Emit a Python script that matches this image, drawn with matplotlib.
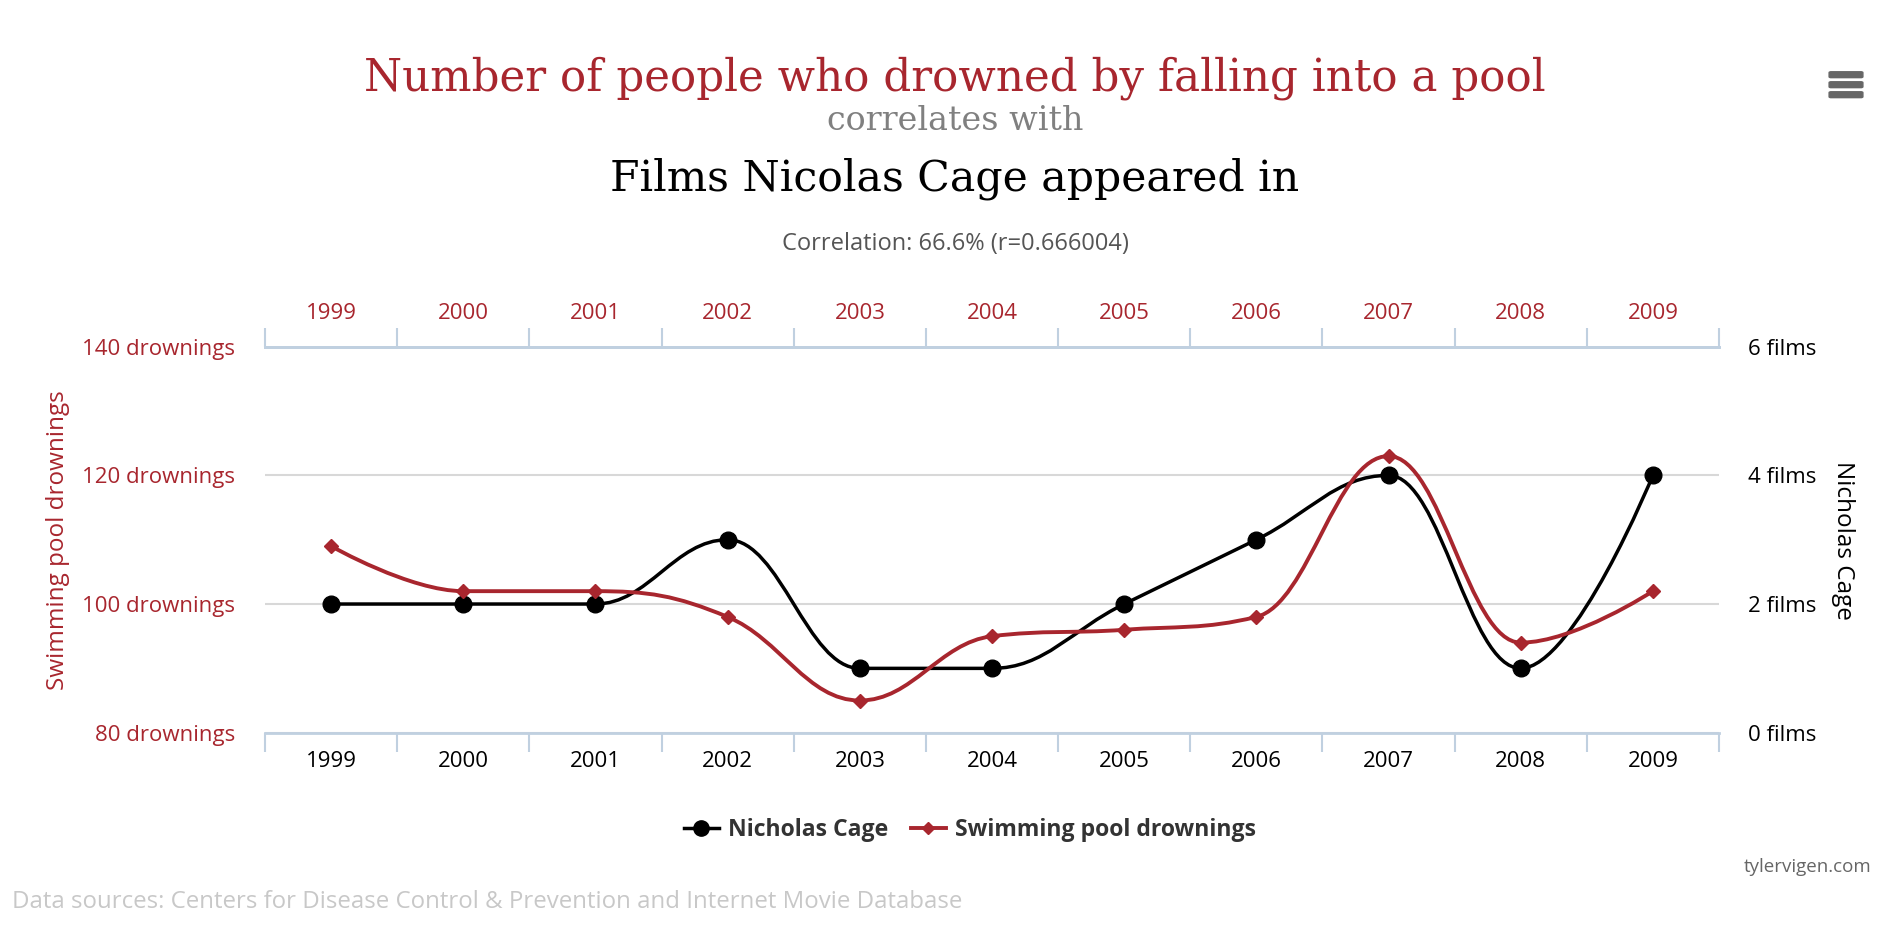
import numpy as np
import matplotlib
matplotlib.use('Agg')
from matplotlib import pyplot as plt
from matplotlib.path import Path
from matplotlib.patches import PathPatch, FancyBboxPatch
from matplotlib.lines import Line2D

years = ['1999', '2000', '2001', '2002', '2003', '2004', '2005', '2006', '2007', '2008', '2009']
cage_films = [2, 2, 2, 3, 1, 1, 2, 3, 4, 1, 4]
pool_drownings = [109, 102, 102, 98, 85, 95, 96, 98, 123, 94, 102]
drown_ticks = [80, 100, 120, 140]
film_ticks = [0, 2, 4, 6]

red = '#a8262e'
axis_col = '#c0d0e0'
grid_col = '#d8d8d8'
W, H = 1890, 932


def fx(px):
    return px / W


def fy(py):
    return 1 - py / H


def spline_path(xs, ys, smoothing=1.5):
    # same curve highcharts uses for its 'spline' series
    n = len(xs)
    denom = smoothing + 1
    left = [None] * n
    right = [None] * n
    for i in range(1, n - 1):
        x, y = xs[i], ys[i]
        px, py = xs[i - 1], ys[i - 1]
        nx, ny = xs[i + 1], ys[i + 1]
        lcx = (smoothing * x + px) / denom
        lcy = (smoothing * y + py) / denom
        rcx = (smoothing * x + nx) / denom
        rcy = (smoothing * y + ny) / denom
        if rcx != lcx:
            corr = (rcy - lcy) * (rcx - x) / (rcx - lcx) + y - rcy
            lcy += corr
            rcy += corr
        if lcy > py and lcy > y:
            lcy = max(py, y); rcy = 2 * y - lcy
        elif lcy < py and lcy < y:
            lcy = min(py, y); rcy = 2 * y - lcy
        if rcy > ny and rcy > y:
            rcy = max(ny, y); lcy = 2 * y - rcy
        elif rcy < ny and rcy < y:
            rcy = min(ny, y); lcy = 2 * y - rcy
        left[i] = (lcx, lcy)
        right[i] = (rcx, rcy)
    verts = [(xs[0], ys[0])]
    codes = [Path.MOVETO]
    for i in range(1, n):
        c1 = right[i - 1] or (xs[i - 1], ys[i - 1])
        c2 = left[i] or (xs[i], ys[i])
        verts += [c1, c2, (xs[i], ys[i])]
        codes += [Path.CURVE4] * 3
    return Path(verts, codes)


plt.rcParams['font.family'] = ['Open Sans', 'DejaVu Sans']
fig = plt.figure(figsize=(W / 100, H / 100), dpi=100)
ax = fig.add_axes([fx(265), fy(732.7), fx(1719) - fx(265), fy(346.7) - fy(732.7)])
ax2 = ax.twinx()
ax.set_zorder(2)
ax2.set_zorder(1)
ax.patch.set_visible(False)

x = np.arange(len(years))
ax.set_xlim(-0.5, len(years) - 0.5)
ax.set_ylim(80, 140)
ax2.set_ylim(0, 6)

# films (right axis)
ax2.add_patch(PathPatch(spline_path(x, cage_films), facecolor='none', edgecolor='black',
                        lw=2.5, capstyle='round', joinstyle='round', zorder=3))
ax2.plot(x, cage_films, 'o', color='black', markersize=12, zorder=4)
# drownings (left axis)
ax.add_patch(PathPatch(spline_path(x, pool_drownings), facecolor='none', edgecolor=red,
                       lw=2.8, capstyle='round', joinstyle='round', zorder=3))
ax.plot(x, pool_drownings, 'D', color=red, markersize=7, zorder=4)

# grid on the films axis
ax2.set_yticks(film_ticks, labels=['%d films' % v for v in film_ticks])
ax2.grid(axis='y', color=grid_col, lw=1.5)
ax2.tick_params(axis='y', length=0, pad=21, labelsize=16, labelcolor='black')
for s in ax2.spines.values():
    s.set_visible(False)

ax.set_yticks(drown_ticks, labels=['%d drownings' % v for v in drown_ticks])
ax.tick_params(axis='y', length=0, pad=21.5, labelsize=16, labelcolor=red)
ax.set_xticks(x, labels=years)
ax.set_xticks(np.arange(len(years) + 1) - 0.5, minor=True)
ax.tick_params(axis='x', which='major', length=0, pad=13.5, labelsize=16, labelcolor='black')
ax.tick_params(axis='x', which='minor', length=14, width=1.5, color=axis_col,
               top=True, bottom=True, direction='out')
ax.spines['left'].set_visible(False)
ax.spines['right'].set_visible(False)
for side in ['top', 'bottom']:
    ax.spines[side].set_color(axis_col)
    ax.spines[side].set_linewidth(2)

top = ax.secondary_xaxis('top')
top.set_xticks(x, labels=years)
top.tick_params(length=0, pad=16, labelsize=16, labelcolor=red)
top.spines['top'].set_color(axis_col)
top.spines['top'].set_linewidth(2)

fig.text(fx(58), fy(540), 'Swimming pool drownings', rotation=90, ha='center', va='center',
         fontsize=17.5, color=red)
fig.text(fx(1843), fy(540), 'Nicholas Cage', rotation=270, ha='center', va='center',
         fontsize=17.5, color='black')

# titles
fig.text(fx(955), fy(90), 'Number of people who drowned by falling into a pool', ha='center',
         va='baseline', family='DejaVu Serif', fontsize=31.4, color=red)
fig.text(fx(955), fy(130), 'correlates with', ha='center', va='baseline',
         family='DejaVu Serif', fontsize=24, color='#808080')
fig.text(fx(955), fy(190), 'Films Nicolas Cage appeared in', ha='center', va='baseline',
         family='DejaVu Serif', fontsize=30.7, color='black')
fig.text(fx(955), fy(250), 'Correlation: 66.6% (r=0.666004)', ha='center', va='baseline',
         fontsize=17, color='#555555')

handles = [Line2D([], [], color='black', lw=2.5, marker='o', markersize=11),
           Line2D([], [], color=red, lw=2.8, marker='D', markersize=6.5)]
leg = fig.legend(handles, ['Nicholas Cage', 'Swimming pool drownings'], loc='center',
                 bbox_to_anchor=(fx(970), fy(830)), ncol=2, frameon=False, handlelength=1.5,
                 handletextpad=0.4, columnspacing=1.0,
                 prop={'family': 'Open Sans', 'weight': 'bold', 'size': 16.6})
for t in leg.get_texts():
    t.set_color('#333333')

fig.text(fx(1872), fy(867), 'tylervigen.com', ha='right', va='center', fontsize=13.5, color='#666666')
fig.text(fx(12), fy(902), 'Data sources: Centers for Disease Control & Prevention and Internet Movie Database',
         ha='left', va='center', fontsize=17.3, color='#c8c8c8')

# menu icon
for yy in [74.7, 84.7, 94.7]:
    fig.add_artist(FancyBboxPatch((fx(1831), fy(yy + 2)), fx(1861) - fx(1831), fy(yy - 2) - fy(yy + 2),
                                  boxstyle='round,pad=0.001', transform=fig.transFigure,
                                  facecolor='#666666', edgecolor='#666666', lw=1))

fig.savefig('out.png', dpi=100)
